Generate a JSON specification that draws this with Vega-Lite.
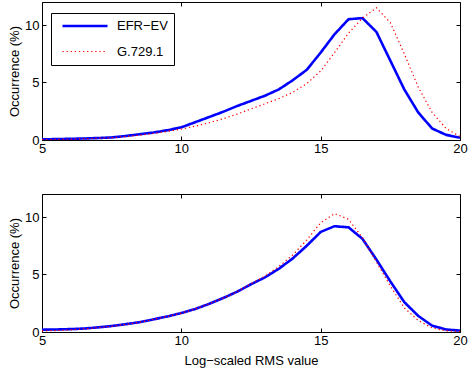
{
  "$schema": "https://vega.github.io/schema/vega-lite/v6.json",
  "autosize": {"type": "pad"},
  "padding": {"left": 8, "top": 1, "right": 0, "bottom": 0},
  "bounds": "flush",
  "spacing": 54,
  "config": {
    "font": "Liberation Sans",
    "view": {"stroke": "#000000", "strokeWidth": 1},
    "axis": {
      "grid": false,
      "domain": false,
      "labelFlush": false,
      "tickColor": "#000000",
      "tickSize": -4,
      "labelColor": "#000000",
      "labelFont": "Liberation Sans",
      "labelFontSize": 13,
      "titleFont": "Liberation Sans",
      "titleFontSize": 13,
      "titleFontWeight": "normal",
      "titleColor": "#000000"
    },
    "legend": {
      "labelFont": "Liberation Sans",
      "labelFontSize": 13,
      "labelColor": "#000000"
    }
  },
  "datasets": {
    "d": [
      {"panel": "top", "series": "EFR−EV", "x": 5, "y": 0.05},
      {"panel": "top", "series": "EFR−EV", "x": 5.5, "y": 0.08},
      {"panel": "top", "series": "EFR−EV", "x": 6, "y": 0.1},
      {"panel": "top", "series": "EFR−EV", "x": 6.5, "y": 0.13},
      {"panel": "top", "series": "EFR−EV", "x": 7, "y": 0.17},
      {"panel": "top", "series": "EFR−EV", "x": 7.5, "y": 0.22},
      {"panel": "top", "series": "EFR−EV", "x": 8, "y": 0.35},
      {"panel": "top", "series": "EFR−EV", "x": 8.5, "y": 0.5},
      {"panel": "top", "series": "EFR−EV", "x": 9, "y": 0.65},
      {"panel": "top", "series": "EFR−EV", "x": 9.5, "y": 0.85},
      {"panel": "top", "series": "EFR−EV", "x": 10, "y": 1.1},
      {"panel": "top", "series": "EFR−EV", "x": 10.5, "y": 1.55},
      {"panel": "top", "series": "EFR−EV", "x": 11, "y": 2.0},
      {"panel": "top", "series": "EFR−EV", "x": 11.5, "y": 2.45},
      {"panel": "top", "series": "EFR−EV", "x": 12, "y": 2.95},
      {"panel": "top", "series": "EFR−EV", "x": 12.5, "y": 3.4},
      {"panel": "top", "series": "EFR−EV", "x": 13, "y": 3.85},
      {"panel": "top", "series": "EFR−EV", "x": 13.5, "y": 4.4},
      {"panel": "top", "series": "EFR−EV", "x": 14, "y": 5.2},
      {"panel": "top", "series": "EFR−EV", "x": 14.5, "y": 6.1},
      {"panel": "top", "series": "EFR−EV", "x": 15, "y": 7.6},
      {"panel": "top", "series": "EFR−EV", "x": 15.5, "y": 9.2},
      {"panel": "top", "series": "EFR−EV", "x": 16, "y": 10.5},
      {"panel": "top", "series": "EFR−EV", "x": 16.5, "y": 10.6},
      {"panel": "top", "series": "EFR−EV", "x": 17, "y": 9.4},
      {"panel": "top", "series": "EFR−EV", "x": 17.5, "y": 6.9},
      {"panel": "top", "series": "EFR−EV", "x": 18, "y": 4.4},
      {"panel": "top", "series": "EFR−EV", "x": 18.5, "y": 2.4},
      {"panel": "top", "series": "EFR−EV", "x": 19, "y": 1.0},
      {"panel": "top", "series": "EFR−EV", "x": 19.5, "y": 0.45},
      {"panel": "top", "series": "EFR−EV", "x": 20, "y": 0.2},
      {"panel": "top", "series": "G.729.1", "x": 5, "y": 0.03},
      {"panel": "top", "series": "G.729.1", "x": 5.5, "y": 0.05},
      {"panel": "top", "series": "G.729.1", "x": 6, "y": 0.07},
      {"panel": "top", "series": "G.729.1", "x": 6.5, "y": 0.1},
      {"panel": "top", "series": "G.729.1", "x": 7, "y": 0.15},
      {"panel": "top", "series": "G.729.1", "x": 7.5, "y": 0.2},
      {"panel": "top", "series": "G.729.1", "x": 8, "y": 0.3},
      {"panel": "top", "series": "G.729.1", "x": 8.5, "y": 0.42},
      {"panel": "top", "series": "G.729.1", "x": 9, "y": 0.57},
      {"panel": "top", "series": "G.729.1", "x": 9.5, "y": 0.75},
      {"panel": "top", "series": "G.729.1", "x": 10, "y": 0.95},
      {"panel": "top", "series": "G.729.1", "x": 10.5, "y": 1.2},
      {"panel": "top", "series": "G.729.1", "x": 11, "y": 1.5},
      {"panel": "top", "series": "G.729.1", "x": 11.5, "y": 1.85},
      {"panel": "top", "series": "G.729.1", "x": 12, "y": 2.25},
      {"panel": "top", "series": "G.729.1", "x": 12.5, "y": 2.7},
      {"panel": "top", "series": "G.729.1", "x": 13, "y": 3.15},
      {"panel": "top", "series": "G.729.1", "x": 13.5, "y": 3.6},
      {"panel": "top", "series": "G.729.1", "x": 14, "y": 4.15},
      {"panel": "top", "series": "G.729.1", "x": 14.5, "y": 4.9},
      {"panel": "top", "series": "G.729.1", "x": 15, "y": 6.0},
      {"panel": "top", "series": "G.729.1", "x": 15.5, "y": 7.6},
      {"panel": "top", "series": "G.729.1", "x": 16, "y": 9.3},
      {"panel": "top", "series": "G.729.1", "x": 16.5, "y": 10.6},
      {"panel": "top", "series": "G.729.1", "x": 17, "y": 11.5},
      {"panel": "top", "series": "G.729.1", "x": 17.5, "y": 10.2},
      {"panel": "top", "series": "G.729.1", "x": 18, "y": 7.5},
      {"panel": "top", "series": "G.729.1", "x": 18.5, "y": 4.6},
      {"panel": "top", "series": "G.729.1", "x": 19, "y": 2.4},
      {"panel": "top", "series": "G.729.1", "x": 19.5, "y": 1.0},
      {"panel": "top", "series": "G.729.1", "x": 20, "y": 0.3},
      {"panel": "bottom", "series": "EFR−EV", "x": 5, "y": 0.2},
      {"panel": "bottom", "series": "EFR−EV", "x": 5.5, "y": 0.22},
      {"panel": "bottom", "series": "EFR−EV", "x": 6, "y": 0.25},
      {"panel": "bottom", "series": "EFR−EV", "x": 6.5, "y": 0.3},
      {"panel": "bottom", "series": "EFR−EV", "x": 7, "y": 0.4},
      {"panel": "bottom", "series": "EFR−EV", "x": 7.5, "y": 0.52},
      {"panel": "bottom", "series": "EFR−EV", "x": 8, "y": 0.68},
      {"panel": "bottom", "series": "EFR−EV", "x": 8.5, "y": 0.85},
      {"panel": "bottom", "series": "EFR−EV", "x": 9, "y": 1.1},
      {"panel": "bottom", "series": "EFR−EV", "x": 9.5, "y": 1.35},
      {"panel": "bottom", "series": "EFR−EV", "x": 10, "y": 1.65},
      {"panel": "bottom", "series": "EFR−EV", "x": 10.5, "y": 2.0},
      {"panel": "bottom", "series": "EFR−EV", "x": 11, "y": 2.45},
      {"panel": "bottom", "series": "EFR−EV", "x": 11.5, "y": 2.95},
      {"panel": "bottom", "series": "EFR−EV", "x": 12, "y": 3.5},
      {"panel": "bottom", "series": "EFR−EV", "x": 12.5, "y": 4.15},
      {"panel": "bottom", "series": "EFR−EV", "x": 13, "y": 4.75},
      {"panel": "bottom", "series": "EFR−EV", "x": 13.5, "y": 5.5},
      {"panel": "bottom", "series": "EFR−EV", "x": 14, "y": 6.4},
      {"panel": "bottom", "series": "EFR−EV", "x": 14.5, "y": 7.5},
      {"panel": "bottom", "series": "EFR−EV", "x": 15, "y": 8.7},
      {"panel": "bottom", "series": "EFR−EV", "x": 15.5, "y": 9.2},
      {"panel": "bottom", "series": "EFR−EV", "x": 16, "y": 9.1},
      {"panel": "bottom", "series": "EFR−EV", "x": 16.5, "y": 8.1},
      {"panel": "bottom", "series": "EFR−EV", "x": 17, "y": 6.3},
      {"panel": "bottom", "series": "EFR−EV", "x": 17.5, "y": 4.4},
      {"panel": "bottom", "series": "EFR−EV", "x": 18, "y": 2.6},
      {"panel": "bottom", "series": "EFR−EV", "x": 18.5, "y": 1.4},
      {"panel": "bottom", "series": "EFR−EV", "x": 19, "y": 0.55},
      {"panel": "bottom", "series": "EFR−EV", "x": 19.5, "y": 0.22},
      {"panel": "bottom", "series": "EFR−EV", "x": 20, "y": 0.12},
      {"panel": "bottom", "series": "G.729.1", "x": 5, "y": 0.1},
      {"panel": "bottom", "series": "G.729.1", "x": 5.5, "y": 0.12},
      {"panel": "bottom", "series": "G.729.1", "x": 6, "y": 0.18},
      {"panel": "bottom", "series": "G.729.1", "x": 6.5, "y": 0.27},
      {"panel": "bottom", "series": "G.729.1", "x": 7, "y": 0.38},
      {"panel": "bottom", "series": "G.729.1", "x": 7.5, "y": 0.5},
      {"panel": "bottom", "series": "G.729.1", "x": 8, "y": 0.66},
      {"panel": "bottom", "series": "G.729.1", "x": 8.5, "y": 0.85},
      {"panel": "bottom", "series": "G.729.1", "x": 9, "y": 1.1},
      {"panel": "bottom", "series": "G.729.1", "x": 9.5, "y": 1.35},
      {"panel": "bottom", "series": "G.729.1", "x": 10, "y": 1.65},
      {"panel": "bottom", "series": "G.729.1", "x": 10.5, "y": 2.0},
      {"panel": "bottom", "series": "G.729.1", "x": 11, "y": 2.45},
      {"panel": "bottom", "series": "G.729.1", "x": 11.5, "y": 2.95},
      {"panel": "bottom", "series": "G.729.1", "x": 12, "y": 3.5},
      {"panel": "bottom", "series": "G.729.1", "x": 12.5, "y": 4.2},
      {"panel": "bottom", "series": "G.729.1", "x": 13, "y": 4.85},
      {"panel": "bottom", "series": "G.729.1", "x": 13.5, "y": 5.7},
      {"panel": "bottom", "series": "G.729.1", "x": 14, "y": 6.7},
      {"panel": "bottom", "series": "G.729.1", "x": 14.5, "y": 8.0},
      {"panel": "bottom", "series": "G.729.1", "x": 15, "y": 9.5},
      {"panel": "bottom", "series": "G.729.1", "x": 15.5, "y": 10.3},
      {"panel": "bottom", "series": "G.729.1", "x": 16, "y": 9.8},
      {"panel": "bottom", "series": "G.729.1", "x": 16.5, "y": 8.2},
      {"panel": "bottom", "series": "G.729.1", "x": 17, "y": 6.1},
      {"panel": "bottom", "series": "G.729.1", "x": 17.5, "y": 4.0},
      {"panel": "bottom", "series": "G.729.1", "x": 18, "y": 2.1},
      {"panel": "bottom", "series": "G.729.1", "x": 18.5, "y": 1.0},
      {"panel": "bottom", "series": "G.729.1", "x": 19, "y": 0.35},
      {"panel": "bottom", "series": "G.729.1", "x": 19.5, "y": 0.1},
      {"panel": "bottom", "series": "G.729.1", "x": 20, "y": 0.05}
    ]
  },
  "vconcat": [
    {
      "width": 418,
      "height": 138,
      "data": {"name": "d"},
      "transform": [{"filter": "datum.panel === 'top'"}],
      "layer": [
        {
          "mark": {"type": "line", "clip": true},
          "encoding": {
            "x": {"field": "x", "type": "quantitative", "scale": {"domain": [5, 20], "nice": false}, "axis": {"values": [5, 10, 15, 20], "title": null, "labelPadding": 6}},
            "y": {"field": "y", "type": "quantitative", "scale": {"domain": [0, 12], "nice": false}, "axis": {"values": [0, 5, 10], "title": "Occurrence (%)", "labelPadding": 7, "titlePadding": 3}},
            "color": {"field": "series", "type": "nominal", "scale": {"domain": ["EFR−EV", "G.729.1"], "range": ["#0000ff", "#ff0000"]}, "legend": {"title": null, "orient": "none", "legendX": 9, "legendY": 11, "strokeColor": "#000000", "fillColor": "#ffffff", "padding": 6, "symbolType": "M-4,0L4,0", "symbolSize": 127, "symbolOffset": 21, "rowPadding": 12, "labelOffset": 25}},
            "strokeDash": {"field": "series", "type": "nominal", "scale": {"domain": ["EFR−EV", "G.729.1"], "range": [[1.3, 0], [1.3, 2.8]]}, "legend": {"title": null}},
            "strokeWidth": {"field": "series", "type": "nominal", "scale": {"domain": ["EFR−EV", "G.729.1"], "range": [2.6, 1.2]}, "legend": {"title": null}}
          }
        },
        {
          "mark": {"type": "line", "opacity": 0},
          "encoding": {
            "x": {"field": "x", "type": "quantitative", "axis": {"orient": "top", "values": [5, 10, 15, 20], "labels": false, "title": null}},
            "y": {"field": "y", "type": "quantitative", "axis": {"orient": "right", "values": [0, 5, 10], "labels": false, "title": null}}
          }
        }
      ],
      "resolve": {"axis": {"x": "independent", "y": "independent"}}
    },
    {
      "width": 418,
      "height": 138,
      "data": {"name": "d"},
      "transform": [{"filter": "datum.panel === 'bottom'"}],
      "layer": [
        {
          "mark": {"type": "line", "clip": true},
          "encoding": {
            "x": {"field": "x", "type": "quantitative", "scale": {"domain": [5, 20], "nice": false}, "axis": {"values": [5, 10, 15, 20], "title": "Log−scaled RMS value", "labelPadding": 6, "titlePadding": 7}},
            "y": {"field": "y", "type": "quantitative", "scale": {"domain": [0, 12], "nice": false}, "axis": {"values": [0, 5, 10], "title": "Occurrence (%)", "labelPadding": 7, "titlePadding": 3}},
            "color": {"field": "series", "type": "nominal", "scale": {"domain": ["EFR−EV", "G.729.1"], "range": ["#0000ff", "#ff0000"]}, "legend": null},
            "strokeDash": {"field": "series", "type": "nominal", "scale": {"domain": ["EFR−EV", "G.729.1"], "range": [[1.3, 0], [1.3, 2.8]]}, "legend": null},
            "strokeWidth": {"field": "series", "type": "nominal", "scale": {"domain": ["EFR−EV", "G.729.1"], "range": [2.6, 1.2]}, "legend": null}
          }
        },
        {
          "mark": {"type": "line", "opacity": 0},
          "encoding": {
            "x": {"field": "x", "type": "quantitative", "axis": {"orient": "top", "values": [5, 10, 15, 20], "labels": false, "title": null}},
            "y": {"field": "y", "type": "quantitative", "axis": {"orient": "right", "values": [0, 5, 10], "labels": false, "title": null}}
          }
        }
      ],
      "resolve": {"axis": {"x": "independent", "y": "independent"}}
    }
  ],
  "resolve": {"legend": {"color": "independent", "strokeDash": "independent", "strokeWidth": "independent"}}
}
